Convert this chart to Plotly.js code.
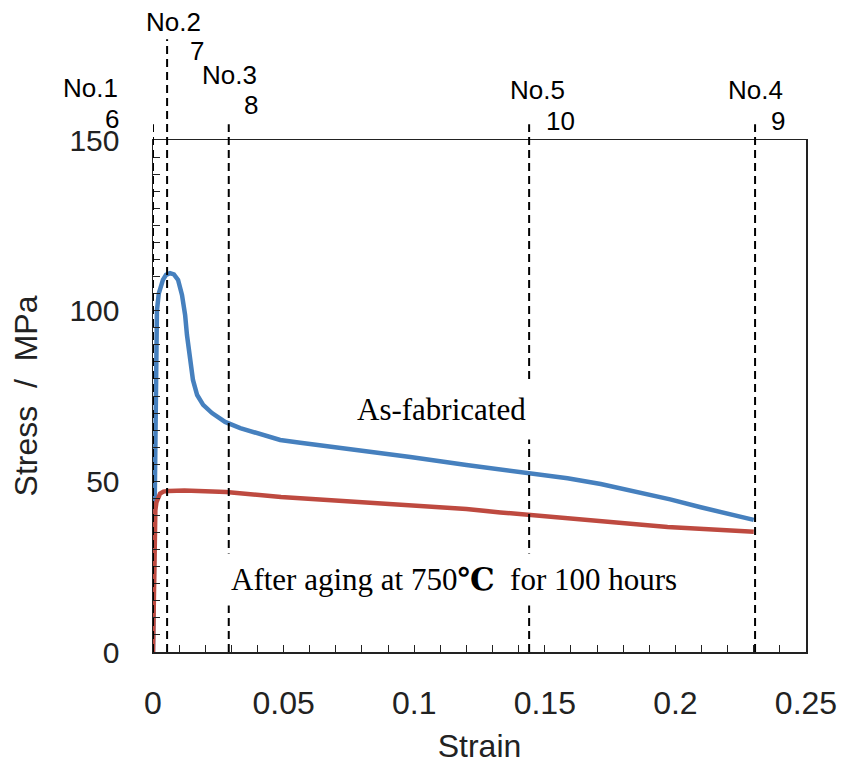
<!DOCTYPE html>
<html>
<head>
<meta charset="utf-8">
<script src="https://cdn.plot.ly/plotly-3.0.1.min.js"></script>
<style>html,body{margin:0;padding:0;background:#fff;}#chart{width:841px;height:765px;}</style>
</head>
<body>
<div id="chart"></div>
<script>
// As-fabricated (blue)
const blueStrain = [0, 0.0003, 0.0006, 0.001, 0.0015, 0.0022, 0.003, 0.0038, 0.005, 0.0065, 0.008, 0.0096, 0.0111, 0.0123, 0.0130, 0.0142, 0.0153, 0.0169, 0.0192, 0.0226, 0.0276, 0.0334, 0.0410, 0.0487, 0.0564, 0.075, 0.0985, 0.12, 0.1304, 0.1446, 0.1587, 0.1714, 0.184, 0.198, 0.2097, 0.230];
const blueStress = [0, 25, 55, 82, 100, 105, 107.5, 109, 110.5, 111, 110.6, 109, 104.6, 98.7, 92.9, 85.5, 79.7, 75.3, 72.4, 70.0, 67.4, 65.6, 63.9, 62.1, 61.3, 59.3, 57.1, 54.8, 53.7, 52.2, 50.9, 49.2, 47.2, 44.7, 42.4, 38.7];
// After aging at 750 C for 100 hours (red)
const redStrain = [0, 0.0003, 0.0006, 0.0009, 0.0013, 0.0019, 0.0027, 0.004, 0.006, 0.012, 0.028, 0.049, 0.0755, 0.0985, 0.12, 0.133, 0.1446, 0.171, 0.197, 0.230];
const redStress = [0, 20, 36, 41.5, 43.8, 45.3, 46.4, 47.0, 47.2, 47.3, 46.9, 45.4, 44.0, 43.1, 41.9, 40.9, 40.1, 38.2, 36.6, 35.2];

// Specimen positions
const specNames = ["No.1", "No.2", "No.3", "No.5", "No.4"];
const specNums = ["6", "7", "8", "10", "9"];
const specStrain = [0.0, 0.0054, 0.029, 0.144, 0.2305];

const xTickVals = [0, 0.05, 0.1, 0.15, 0.2, 0.25];
const xTickText = ["0", "0.05", "0.1", "0.15", "0.2", "0.25"];
const yTickVals = [0, 50, 100, 150];
const yTickText = ["0", "50", "100", "150"];

// label placement (pixel offsets / paper heights)
const nameShift = [-63, 6, 1, 8, 0];
const nameY = [1.1016, 1.2305, 1.127, 1.0977, 1.0977];
const numShift = [-41, 30, 22, 31, 23];
const numY = [1.041, 1.1748, 1.0684, 1.0371, 1.0371];
const lineTop = [1.031, 1.197, 1.031, 1.031, 1.031];

const sans = 'Liberation Sans, Arial, sans-serif';
const serif = 'Liberation Serif, Times New Roman, DejaVu Serif, serif';

const traces = [
  {x: blueStrain, y: blueStress, mode: 'lines', line: {color: 'rgb(70,128,190)', width: 4.5}, hoverinfo: 'skip'},
  {x: redStrain, y: redStress, mode: 'lines', line: {color: 'rgb(190,74,64)', width: 4.5}, hoverinfo: 'skip'}
];

const shapes = specStrain.map((s, i) => ({
  type: 'line', xref: 'x', yref: 'paper', x0: s, x1: s, y0: 0, y1: lineTop[i],
  line: {color: '#000', width: 2, dash: '8px,5px'}, layer: 'above'
}));

const annotations = [];
specStrain.forEach((s, i) => {
  annotations.push({x: s, y: nameY[i], xref: 'x', yref: 'paper', text: specNames[i], showarrow: false,
    xshift: nameShift[i], xanchor: 'center', yanchor: 'middle', font: {family: sans, size: 26, color: '#000'}});
  annotations.push({x: s, y: numY[i], xref: 'x', yref: 'paper', text: specNums[i], showarrow: false,
    xshift: numShift[i], xanchor: 'center', yanchor: 'middle', font: {family: sans, size: 26, color: '#000'}});
});
annotations.push({x: 0.1104, y: 70.9, xref: 'x', yref: 'y', text: 'As-fabricated', showarrow: false,
  font: {family: serif, size: 31, color: '#000'}, bgcolor: '#fff', borderpad: 12});
annotations.push({x: 0.1154, y: 21.1, xref: 'x', yref: 'y', text: 'After aging at 750<b>℃</b>&nbsp; for 100 hours', showarrow: false,
  font: {family: serif, size: 31, color: '#000'}, bgcolor: '#fff', borderpad: 8});

const layout = {
  width: 841, height: 765,
  margin: {l: 153, r: 35, t: 140, b: 113},
  paper_bgcolor: '#fff', plot_bgcolor: '#fff',
  showlegend: false,
  xaxis: {
    range: [0, 0.25], showgrid: false, zeroline: false,
    showline: true, mirror: true, linecolor: '#222', linewidth: 1.5,
    tickvals: xTickVals, ticktext: xTickText, ticks: 'inside', ticklen: 7, tickcolor: '#222',
    minor: {dtick: 0.01, ticks: 'inside', ticklen: 7, tickcolor: '#222', showgrid: false},
    ticklabelstandoff: 22,
    tickfont: {family: sans, size: 32, color: '#222'},
    title: {text: 'Strain', font: {family: sans, size: 32, color: '#222'}, standoff: 14}
  },
  yaxis: {
    range: [0, 150], showgrid: false, zeroline: false,
    showline: true, mirror: true, linecolor: '#222', linewidth: 1.5,
    tickvals: yTickVals, ticktext: yTickText, ticks: 'inside', ticklen: 7, tickcolor: '#222',
    minor: {dtick: 5, ticks: 'inside', ticklen: 7, tickcolor: '#222', showgrid: false},
    ticklabelstandoff: 26,
    tickfont: {family: sans, size: 30, color: '#222'},
    title: {text: 'Stress&nbsp; /&nbsp; MPa', font: {family: sans, size: 32, color: '#222'}, standoff: 22}
  },
  shapes: shapes,
  annotations: annotations
};

Plotly.newPlot('chart', traces, layout, {displayModeBar: false, staticPlot: true});
</script>
</body>
</html>
